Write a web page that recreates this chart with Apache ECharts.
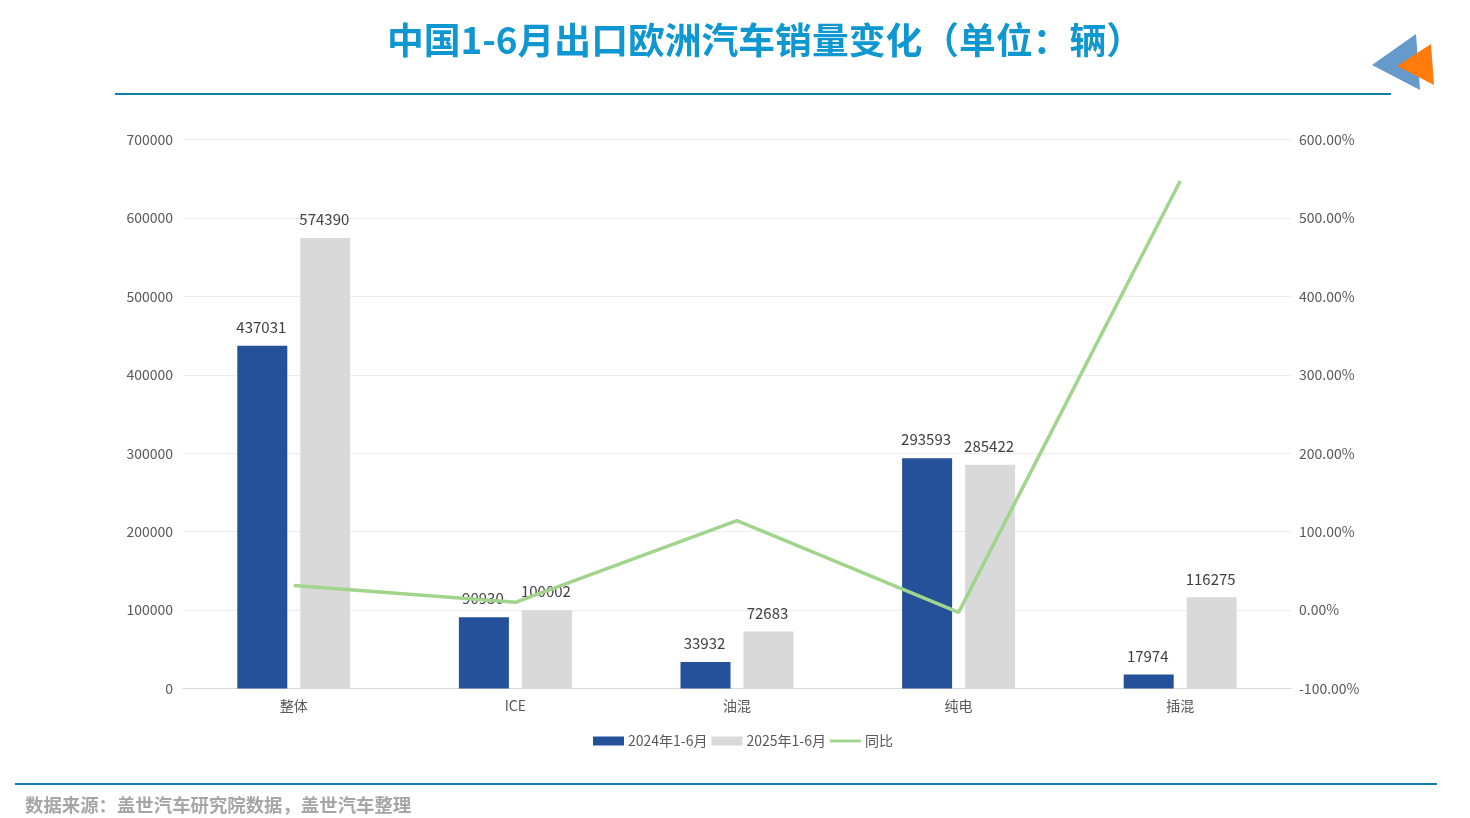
<!DOCTYPE html>
<html>
<head>
<meta charset="utf-8">
<title>中国1-6月出口欧洲汽车销量变化</title>
<style>
	html, body { margin: 0; padding: 0; background: #fff; }
	#chart { width: 1470px; height: 818px; }
</style>
<script src="https://cdn.jsdelivr.net/npm/echarts@6/dist/echarts.min.js"></script>
</head>
<body>
<div id="chart"></div>
<script>
var categories = ['整体', 'ICE', '油混', '纯电', '插混'];
var sales2024 = [437031, 90930, 33932, 293593, 17974];
var sales2025 = [574390, 100002, 72683, 285422, 116275];
var yoy = [31.4, 10.0, 114.2, -2.8, 546.9];

var titleText = '中国1-6月出口欧洲汽车销量变化（单位：辆）';
var sourceText = '数据来源：盖世汽车研究院数据，盖世汽车整理';

var font = '"Noto Sans CJK SC", "Noto Sans", sans-serif';
var labelStyle = { show: true, position: 'top', distance: 11, offset: [-1, 0], color: '#404040', fontSize: 15, fontFamily: font };

var option = {
	backgroundColor: '#fff',
	animation: false,
	textStyle: { fontFamily: font },
	title: [{
		text: titleText,
		left: 765,
		top: 22,
		padding: 0,
		textAlign: 'center',
		textStyle: { color: '#0f97d2', fontSize: 36.8, fontWeight: 'bold', fontFamily: font }
	}, {
		text: sourceText,
		left: 25,
		top: 796,
		padding: 0,
		textStyle: { color: '#a6a6a6', fontSize: 18.4, fontWeight: 'bold', fontFamily: font }
	}],
	grid: { left: 183, right: 179, top: 139.4, bottom: 129.4 },
	legend: {
		left: 593,
		top: 734,
		padding: 0,
		itemGap: 4,
		itemWidth: 31,
		itemHeight: 9,
		textStyle: { color: '#595959', fontSize: 14, padding: [0, 0, 0, -1] },
		data: [
			{ name: '2024年1-6月', icon: 'rect' },
			{ name: '2025年1-6月', icon: 'rect' },
			{ name: '同比', icon: 'path://M0,0H33V3H0Z' }
		]
	},
	xAxis: {
		type: 'category',
		data: categories,
		axisTick: { show: false },
		axisLine: { lineStyle: { color: '#d9d9d9' } },
		axisLabel: { color: '#595959', fontSize: 14, margin: 10 }
	},
	yAxis: [{
		type: 'value',
		min: 0,
		max: 700000,
		interval: 100000,
		axisLine: { show: false },
		axisTick: { show: false },
		axisLabel: {
			color: '#595959',
			fontSize: 14,
			margin: 10,
			formatter: function(v) { return String(v); }
		},
		splitLine: { lineStyle: { color: '#ededed' } }
	}, {
		type: 'value',
		min: -100,
		max: 600,
		interval: 100,
		axisLine: { show: false },
		axisTick: { show: false },
		axisLabel: {
			color: '#595959',
			fontSize: 14,
			margin: 8,
			formatter: function(v) { return v.toFixed(2) + '%'; }
		},
		splitLine: { show: false }
	}],
	series: [{
		name: '2024年1-6月',
		type: 'bar',
		data: sales2024,
		barWidth: 50,
		barGap: '26%',
		itemStyle: { color: '#24519a' },
		label: labelStyle
	}, {
		name: '2025年1-6月',
		type: 'bar',
		data: sales2025,
		barWidth: 50,
		itemStyle: { color: '#d9d9d9' },
		label: labelStyle
	}, {
		name: '同比',
		type: 'line',
		yAxisIndex: 1,
		data: yoy,
		symbol: 'none',
		lineStyle: { color: '#a0d58b', width: 3.5 },
		itemStyle: { color: '#a0d58b' }
	}],
	graphic: [
		{ type: 'line', shape: { x1: 115, y1: 94, x2: 1391, y2: 94 }, style: { stroke: '#0f7fae', lineWidth: 2 } },
		{ type: 'line', shape: { x1: 15, y1: 784, x2: 1437, y2: 784 }, style: { stroke: '#0f7fae', lineWidth: 2 } },
		{ type: 'polygon', shape: { points: [[1372, 65], [1416, 34], [1420, 90]] }, style: { fill: '#6699cc' } },
		{ type: 'polygon', shape: { points: [[1397, 66], [1431, 44], [1434, 85]] }, style: { fill: '#ff7c0a' } }
	]
};

var chart = echarts.init(document.getElementById('chart'));
chart.setOption(option);
</script>
</body>
</html>
